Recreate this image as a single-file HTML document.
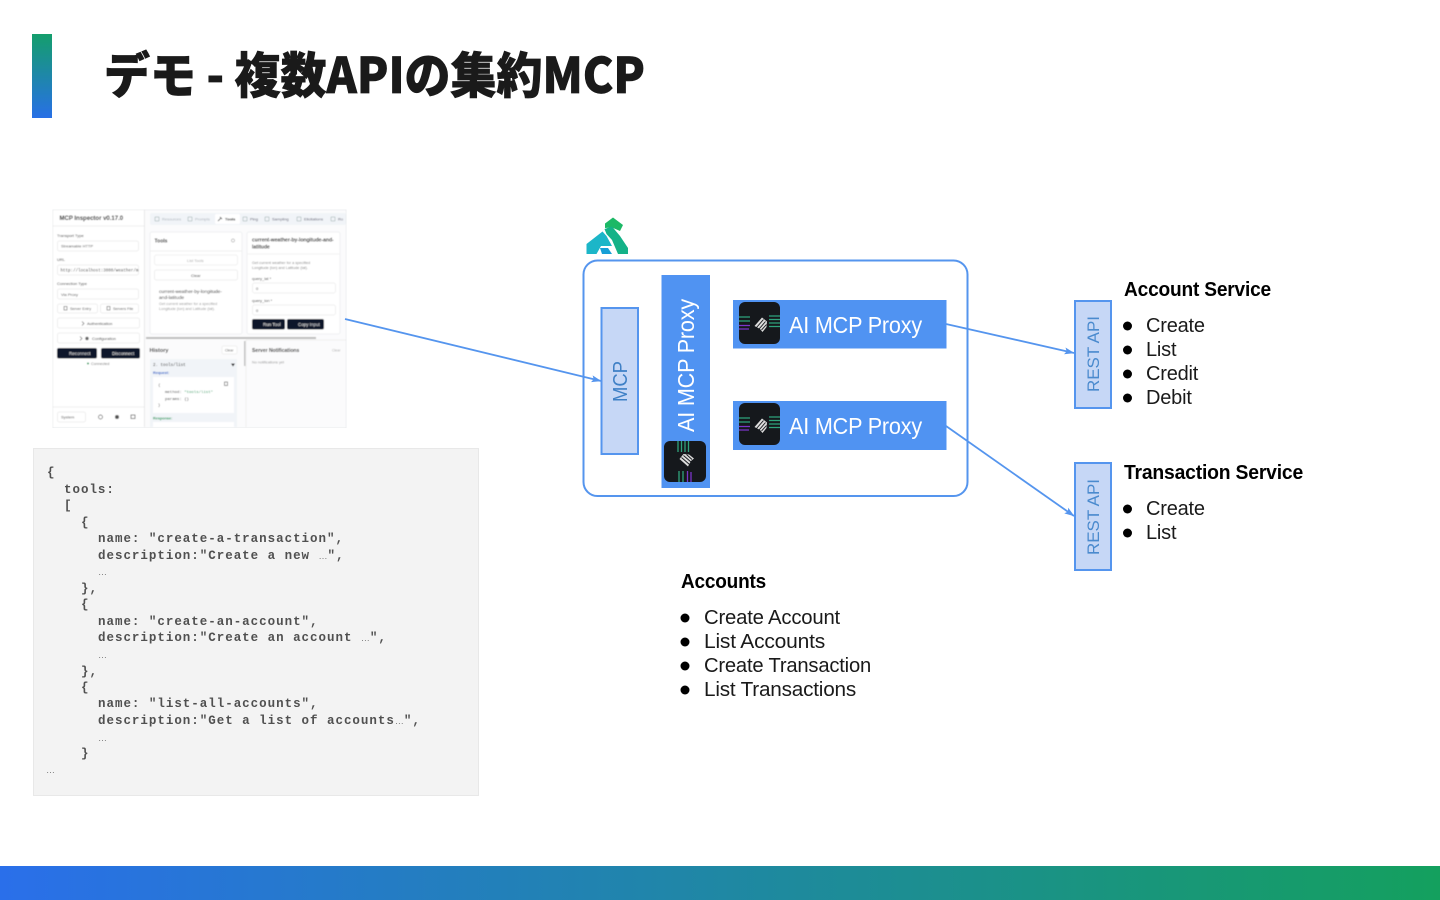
<!DOCTYPE html>
<html lang="ja"><head><meta charset="utf-8"><title>デモ</title>
<style>
html,body{margin:0;padding:0;background:#fff;width:1440px;height:900px;overflow:hidden}
svg{display:block}
text{font-family:"Liberation Sans","Noto Sans CJK JP",sans-serif}
.t{font-family:"Noto Sans CJK JP","Liberation Sans",sans-serif;font-weight:900;font-size:49px;fill:#1a1a1a;stroke:#1a1a1a;stroke-width:.7px}
.c{font-family:"Liberation Mono",monospace;font-weight:700;font-size:12.5px;letter-spacing:.98px;fill:#505050}
.d{font-family:"Liberation Sans",sans-serif;font-size:9px;fill:#777;font-weight:400;letter-spacing:0}
.h{font-weight:700;font-size:20px;fill:#000;letter-spacing:-.2px}
.i{font-size:20px;fill:#1a1a1a;letter-spacing:-.2px}
.w{font-size:23px;fill:#fff;letter-spacing:-.2px}
.m{font-size:6px;fill:#555}
.mb{font-size:6px;fill:#222;font-weight:700}
.mo{font-family:"Liberation Mono",monospace;font-size:5px;fill:#444}
.bw{font-size:4.5px;fill:#eee}
</style></head><body>
<svg width="1440" height="900" viewBox="0 0 1440 900" xmlns="http://www.w3.org/2000/svg">
<defs>
<linearGradient id="g1" x1="0" y1="0" x2="0" y2="1"><stop offset="0" stop-color="#149E6C"/><stop offset="1" stop-color="#2870E6"/></linearGradient>
<linearGradient id="g2" x1="0" y1="0" x2="1" y2="0"><stop offset="0" stop-color="#2A6FEA"/><stop offset="1" stop-color="#14A05E"/></linearGradient>
<filter id="b" x="0" y="0" width="1" height="1"><feGaussianBlur stdDeviation="0.5"/></filter>
<marker id="a" markerWidth="10" markerHeight="8" refX="9.5" refY="4" orient="auto" markerUnits="userSpaceOnUse"><path d="M0 .5L10 4L0 7.5L2 4Z" fill="#5595EE"/></marker>
<g id="icoH">
<rect width="41" height="42" rx="6" fill="#15181c"/>
<path d="M0 15H11M0 19H11M30 14H41M30 17.500H41M30 21H41M30 24.500H41" stroke="#2fa37c" stroke-width="1.300"/>
<path d="M0 23.500H11M0 27H10" stroke="#7b35c9" stroke-width="1.300"/>
<path d="M15.500 24L23 15.500L28 19.500L27.500 25L23.500 30L21 27Z" fill="#dcdcdc"/>
<path d="M17.500 25.500L24.500 17.500M20 27L26.500 19.500M22.500 28L27.500 22.500" stroke="#15181c" stroke-width=".9"/>
</g>
</defs>

<rect x="32" y="34" width="20" height="84" fill="url(#g1)"/>
<text class="t" x="104" y="93" textLength="541" lengthAdjust="spacingAndGlyphs">デモ - 複数APIの集約MCP</text>
<rect x="0" y="866" width="1440" height="34" fill="url(#g2)"/>

<!-- inspector screenshot -->
<g filter="url(#b)">
<rect x="52.500" y="209.500" width="294" height="218.500" fill="#fff" stroke="#e4e6e8"/>
<rect x="144" y="210" width="202" height="217" fill="#fbfbfc"/>
<path d="M144.500 210V427" stroke="#e8e8ea"/>
<path d="M53 226H144" stroke="#eee"/>
<text x="59.500" y="220" class="mb" font-size="6">MCP Inspector v0.17.0</text>
<text x="57" y="237" style="font-size:4px;fill:#444">Transport Type</text>
<rect x="57.500" y="241" width="81" height="10" rx="2" fill="#fff" stroke="#eee"/>
<text x="61" y="247.500" style="font-size:4px;fill:#555">Streamable HTTP</text>
<text x="57" y="261" style="font-size:4px;fill:#444">URL</text>
<rect x="57.500" y="265" width="81" height="10" rx="2" fill="#fff" stroke="#eee"/>
<text x="60.500" y="271.500" class="mo" style="font-size:4.200px">http://localhost:3000/weather/m</text>
<text x="57" y="285" style="font-size:4px;fill:#444">Connection Type</text>
<rect x="57.500" y="289" width="81" height="10" rx="2" fill="#fff" stroke="#eee"/>
<text x="61" y="296" style="font-size:4px;fill:#555">Via Proxy</text>
<rect x="57.500" y="304" width="40" height="9" rx="2" fill="#fff" stroke="#eee"/>
<rect x="100.500" y="304" width="38" height="9" rx="2" fill="#fff" stroke="#eee"/>
<text x="70" y="310" style="font-size:3.800px;fill:#555">Server Entry</text>
<text x="113" y="310" style="font-size:3.800px;fill:#555">Servers File</text>
<rect x="64" y="306.500" width="3" height="3.500" fill="none" stroke="#666" stroke-width=".6"/>
<rect x="107" y="306.500" width="3" height="3.500" fill="none" stroke="#666" stroke-width=".6"/>
<rect x="57.500" y="318" width="82" height="10" rx="2" fill="#fff" stroke="#eee"/>
<rect x="57.500" y="333" width="82" height="10" rx="2" fill="#fff" stroke="#eee"/>
<text x="87" y="325" style="font-size:4px;fill:#444">Authentication</text>
<text x="92" y="340" style="font-size:4px;fill:#444">Configuration</text>
<path d="M82 321.500L84 323.500L82 325.500M80 336.500L82 338.500L80 340.500" fill="none" stroke="#555" stroke-width=".6"/>
<circle cx="87" cy="338.500" r="1.700" fill="#666"/>
<rect x="57" y="348" width="40" height="10.500" rx="2" fill="#11182b"/>
<rect x="101" y="348" width="39" height="10.500" rx="2" fill="#11182b"/>
<text x="69" y="355" class="bw">Reconnect</text>
<text x="112" y="355" class="bw">Disconnect</text>
<circle cx="88" cy="363.500" r="1" fill="#2a9a5c"/>
<text x="91" y="365" style="font-size:3.800px;fill:#777">Connected</text>
<path d="M53 407H144" stroke="#eee"/>
<rect x="57.500" y="412" width="28" height="10" rx="2" fill="#fff" stroke="#eee"/>
<text x="61" y="418.500" style="font-size:4px;fill:#555">System</text>
<circle cx="100.500" cy="417" r="2" fill="none" stroke="#555" stroke-width=".7"/>
<circle cx="117" cy="417" r="2" fill="#555"/>
<rect x="131" y="415" width="4" height="3.500" fill="none" stroke="#555" stroke-width=".7"/>

<rect x="150" y="213" width="196" height="12" rx="2" fill="#f1f4f8"/>
<rect x="215" y="214" width="25" height="10" rx="1.500" fill="#fff"/>
<text x="162" y="220.500" style="font-size:4px;fill:#aeb4bc">Resources</text>
<text x="195" y="220.500" style="font-size:4px;fill:#aeb4bc">Prompts</text>
<text x="225" y="220.500" style="font-size:4px;fill:#222;font-weight:700">Tools</text>
<text x="250" y="220.500" style="font-size:4px;fill:#667">Ping</text>
<text x="272" y="220.500" style="font-size:4px;fill:#667">Sampling</text>
<text x="304" y="220.500" style="font-size:4px;fill:#667">Elicitations</text>
<text x="338" y="220.500" style="font-size:4px;fill:#667">Ro</text>
<path d="M155 217h4v4h-4zM188 217h4v4h-4zM243 217h4v4h-4zM265 217h4v4h-4zM297 217h4v4h-4zM331 217h4v4h-4z" fill="none" stroke="#9aa" stroke-width=".5"/>
<path d="M218 221L221 218M220 217l2 2" stroke="#333" stroke-width=".8"/>

<rect x="150" y="232" width="92" height="102" rx="2" fill="#fff" stroke="#eef0f2"/>
<path d="M150 251H242" stroke="#f0f0f0"/>
<text x="154.500" y="242.500" style="font-size:5px;fill:#222;font-weight:700">Tools</text>
<circle cx="233" cy="240.500" r="1.600" fill="none" stroke="#888" stroke-width=".5"/>
<rect x="154.500" y="255" width="83" height="10" rx="2" fill="#fff" stroke="#f1f1f1"/>
<text x="187" y="262" style="font-size:4px;fill:#aaa">List Tools</text>
<rect x="154.500" y="270" width="83" height="10" rx="2" fill="#fff" stroke="#eee"/>
<text x="191" y="277" style="font-size:4px;fill:#333">Clear</text>
<text x="159" y="293" style="font-size:4.800px;fill:#333">current-weather-by-longitude-</text>
<text x="159" y="299" style="font-size:4.800px;fill:#333">and-latitude</text>
<text x="159" y="305" style="font-size:3.800px;fill:#999">Get current weather for a specified</text>
<text x="159" y="310" style="font-size:3.800px;fill:#999">Longitude (lon) and Latitude (lat).</text>

<rect x="247" y="232" width="93" height="102" rx="2" fill="#fff" stroke="#eef0f2"/>
<text x="252" y="241.500" style="font-size:5px;fill:#222;font-weight:700">current-weather-by-longitude-and-</text>
<text x="252" y="248.500" style="font-size:5px;fill:#222;font-weight:700">latitude</text>
<path d="M247 254H340" stroke="#f2f2f2"/>
<text x="252" y="264" style="font-size:3.800px;fill:#888">Get current weather for a specified</text>
<text x="252" y="269" style="font-size:3.800px;fill:#888">Longitude (lon) and Latitude (lat).</text>
<text x="252" y="280" style="font-size:4px;fill:#444">query_lat *</text>
<rect x="252.500" y="283" width="83" height="10" rx="2" fill="#fff" stroke="#f0f0f0"/>
<text x="256" y="290" style="font-size:4px;fill:#444">0</text>
<text x="252" y="302" style="font-size:4px;fill:#444">query_lon *</text>
<rect x="252.500" y="305" width="83" height="10" rx="2" fill="#fff" stroke="#f0f0f0"/>
<text x="256" y="312" style="font-size:4px;fill:#444">0</text>
<rect x="252" y="319" width="33" height="10.500" rx="2" fill="#11182b"/>
<rect x="287" y="319" width="37" height="10.500" rx="2" fill="#11182b"/>
<text x="263" y="326" class="bw">Run Tool</text>
<text x="298" y="326" class="bw">Copy Input</text>

<rect x="146" y="337" width="170" height="2" fill="#bdbdbd"/>
<rect x="244" y="341" width="2" height="25" fill="#c4c4c4"/>
<path d="M246 340V427M246 340H346" stroke="#eee"/>
<text x="149.500" y="352" style="font-size:5.500px;fill:#333;font-weight:700">History</text>
<rect x="222" y="346" width="15" height="8" rx="1.500" fill="#fff" stroke="#f0f0f0"/>
<text x="225" y="351.500" style="font-size:3.500px;fill:#555">Clear</text>
<text x="252" y="352" style="font-size:5px;fill:#333;font-weight:700">Server Notifications</text>
<text x="332" y="351.500" style="font-size:3.500px;fill:#aaa">Clear</text>
<text x="252" y="363.500" style="font-size:3.800px;fill:#999">No notifications yet</text>
<rect x="150" y="359" width="87" height="68" fill="#f1f4f8"/>
<text x="153" y="366" class="mo" style="font-size:4.200px;fill:#333">2. tools/list</text>
<path d="M231 363.500H235L233 366.500Z" fill="#222"/>
<text x="153" y="374" style="font-size:3.800px;fill:#3264c8;font-weight:700">Request:</text>
<rect x="153" y="377" width="81" height="36" fill="#fff"/>
<text x="158" y="386" class="mo" style="font-size:4px">{</text>
<text x="165" y="393" class="mo" style="font-size:4px">method: <tspan fill="#2a9a5c">"tools/list"</tspan></text>
<text x="165" y="400" class="mo" style="font-size:4px">params: {}</text>
<text x="158" y="406" class="mo" style="font-size:4px">}</text>
<rect x="224.500" y="382" width="3" height="3.500" fill="none" stroke="#555" stroke-width=".6"/>
<text x="153" y="419.500" style="font-size:3.800px;fill:#2a9a5c;font-weight:700">Response:</text>
<rect x="153" y="422" width="81" height="5" fill="#fff"/>
</g>

<!-- code block -->
<rect x="33.500" y="448.500" width="445" height="347" fill="#f3f3f3" stroke="#e8e8e8"/>
<g>
<text class="c" x="47" y="476">{</text>
<text class="c" x="64" y="493">tools:</text>
<text class="c" x="64" y="509">[</text>
<text class="c" x="81" y="526">{</text>
<text class="c" x="98" y="542">name: "create-a-transaction",</text>
<text class="c" x="98" y="559">description:"Create a new <tspan class="d">…</tspan>",</text>
<text class="d" x="98" y="575">…</text>
<text class="c" x="81" y="592">},</text>
<text class="c" x="81" y="608">{</text>
<text class="c" x="98" y="625">name: "create-an-account",</text>
<text class="c" x="98" y="641">description:"Create an account <tspan class="d">…</tspan>",</text>
<text class="d" x="98" y="658">…</text>
<text class="c" x="81" y="675">},</text>
<text class="c" x="81" y="691">{</text>
<text class="c" x="98" y="707">name: "list-all-accounts",</text>
<text class="c" x="98" y="724">description:"Get a list of accounts<tspan class="d">…</tspan>",</text>
<text class="d" x="98" y="741">…</text>
<text class="c" x="81" y="757">}</text>
<text class="d" x="46" y="773">…</text>
</g>

<!-- kong logo -->
<g>
<path d="M605 223.500L613 217.500L623 225L620 231L612 227.500L605 228Z" fill="#1cb866"/>
<path d="M604.500 229L612 226.500L620 236L628 248V254H618L612 240L606.500 234Z" fill="#14b288"/>
<path d="M586.500 254V244L602.500 231.500L606.500 236L612 246H601L596.500 254Z" fill="#1cb6c8"/>
<path d="M600 248H608L612 254H602Z" fill="#169fd6"/>
</g>

<!-- container -->
<rect x="583.500" y="260.500" width="384" height="235.500" rx="14" fill="#fff" stroke="#5595EE" stroke-width="2"/>

<!-- MCP -->
<rect x="601.500" y="308" width="36.500" height="146" fill="#C6D7F6" stroke="#5595EE" stroke-width="2"/>
<text x="0" y="0" transform="translate(627,402) rotate(-90)" font-size="20" fill="#3F80C6" textLength="41" lengthAdjust="spacingAndGlyphs">MCP</text>

<!-- vertical proxy -->
<rect x="661.500" y="275" width="48.500" height="213" fill="#5093F2"/>
<text class="w" transform="translate(694,432) rotate(-90)" textLength="133" lengthAdjust="spacingAndGlyphs">AI MCP Proxy</text>
<use href="#icoH" transform="translate(664,482) rotate(-90)"/>

<!-- horizontal proxies -->
<rect x="733" y="300" width="213.500" height="48.500" fill="#5093F2"/>
<use href="#icoH" x="739" y="302"/>
<text class="w" x="789" y="333" textLength="133" lengthAdjust="spacingAndGlyphs">AI MCP Proxy</text>
<rect x="733" y="401" width="213.500" height="49" fill="#5093F2"/>
<use href="#icoH" x="739" y="403"/>
<text class="w" x="789" y="434" textLength="133" lengthAdjust="spacingAndGlyphs">AI MCP Proxy</text>

<!-- REST -->
<rect x="1075" y="301" width="36" height="107" fill="#C6D7F6" stroke="#5595EE" stroke-width="2"/>
<text transform="translate(1099,392) rotate(-90)" font-size="17" fill="#4A8ACE" textLength="76" lengthAdjust="spacingAndGlyphs">REST API</text>
<rect x="1075" y="463" width="36" height="107" fill="#C6D7F6" stroke="#5595EE" stroke-width="2"/>
<text transform="translate(1099,555) rotate(-90)" font-size="17" fill="#4A8ACE" textLength="76" lengthAdjust="spacingAndGlyphs">REST API</text>

<!-- arrows -->
<g stroke="#5595EE" stroke-width="1.800" fill="none">
<line x1="345" y1="319" x2="601" y2="381" marker-end="url(#a)"/>
<line x1="946" y1="324" x2="1074" y2="353" marker-end="url(#a)"/>
<line x1="946" y1="426" x2="1074" y2="516" marker-end="url(#a)"/>
</g>

<!-- lists -->
<text class="h" x="1124" y="296" textLength="147" lengthAdjust="spacingAndGlyphs">Account Service</text>
<g fill="#000"><circle cx="1127.500" cy="326" r="4.500"/><circle cx="1127.500" cy="350" r="4.500"/><circle cx="1127.500" cy="374" r="4.500"/><circle cx="1127.500" cy="398" r="4.500"/><circle cx="1127.500" cy="509" r="4.500"/><circle cx="1127.500" cy="533" r="4.500"/>
<circle cx="685" cy="618" r="4.500"/><circle cx="685" cy="642" r="4.500"/><circle cx="685" cy="666" r="4.500"/><circle cx="685" cy="690" r="4.500"/></g>
<text class="i" x="1146" y="332">Create</text>
<text class="i" x="1146" y="356">List</text>
<text class="i" x="1146" y="380">Credit</text>
<text class="i" x="1146" y="404">Debit</text>
<text class="h" x="1124" y="479" textLength="179" lengthAdjust="spacingAndGlyphs">Transaction Service</text>
<text class="i" x="1146" y="515">Create</text>
<text class="i" x="1146" y="539">List</text>
<text class="h" x="681" y="588" textLength="85" lengthAdjust="spacingAndGlyphs">Accounts</text>
<text class="i" x="704" y="624" textLength="136" lengthAdjust="spacingAndGlyphs">Create Account</text>
<text class="i" x="704" y="648" textLength="121" lengthAdjust="spacingAndGlyphs">List Accounts</text>
<text class="i" x="704" y="672" textLength="167" lengthAdjust="spacingAndGlyphs">Create Transaction</text>
<text class="i" x="704" y="696" textLength="152" lengthAdjust="spacingAndGlyphs">List Transactions</text>
</svg>
</body></html>
